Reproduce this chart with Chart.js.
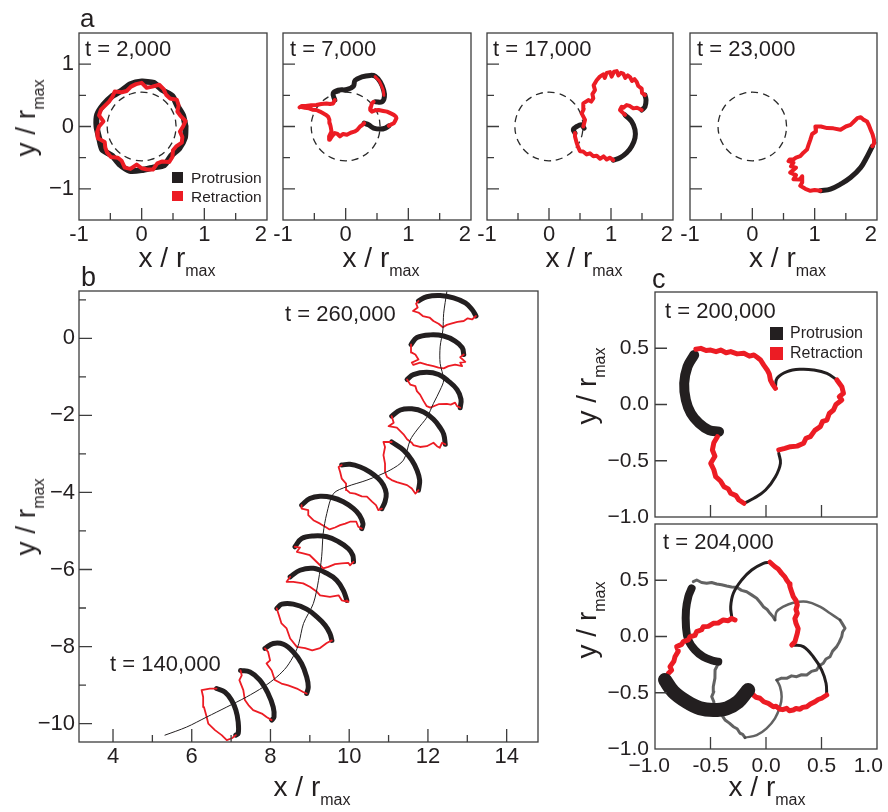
<!DOCTYPE html>
<html lang="en">
<head>
    <meta charset="UTF-8">
    <title>Protrusion / retraction outlines</title>
    <script src="https://cdn.jsdelivr.net/npm/chart.js@4.4.0/dist/chart.umd.min.js"></script>
    <style>
        body {
            margin: 0;
            width: 888px;
            height: 812px;
            position: relative;
            overflow: hidden;
            background: #fff;
            font-family: "Liberation Sans", Arial, Helvetica, sans-serif;
            color: #231f20;
        }
        canvas { position: absolute; }
        .txt { position: absolute; white-space: nowrap; line-height: 1; }
        .sub { font-size: 16px; position: relative; top: 9px; }
        .key { position: absolute; }
    </style>
</head>
<body>
<script>
// ---- tick values and labels ----
const aXTicks = [-1, -0.5, 0, 0.5, 1, 1.5, 2];
const aXLabels = ['-1', '', '0', '', '1', '', '2  '];
const aYTicks = [-1.5, -1, -0.5, 0, 0.5, 1, 1.5];
const aYLabels = ['', '\u22121', '', '0', '', '1', ''];
const bXTicks = [4, 5, 6, 7, 8, 9, 10, 11, 12, 13, 14];
const bXLabels = ['4', '', '6', '', '8', '', '10', '', '12', '', '14'];
const bYTicks = [-10, -9, -8, -7, -6, -5, -4, -3, -2, -1, 0, 1];
const bYLabels = ['\u221210', '', '\u22128', '', '\u22126', '', '\u22124', '', '\u22122', '', '0', ''];
const cXTicks = [-1, -0.5, 0, 0.5, 1];
const cXLabels = ['\u22121.0  ', '-0.5', '0.0', '0.5', '1.0   '];
const cYTicks = [-1, -0.5, 0, 0.5, 1];
const cYLabels = ['\u22121.0', '\u22120.5', '0.0', '0.5', ''];

// ---- panel a: reference circle (r = 0.55) ----
const refCircle = [[0.55,0],[0.531,0.142],[0.476,0.275],[0.389,0.389],[0.275,0.476],[0.142,0.531],[0,0.55],
    [-0.142,0.531],[-0.275,0.476],[-0.389,0.389],[-0.476,0.275],[-0.531,0.142],[-0.55,0],[-0.531,-0.142],
    [-0.476,-0.275],[-0.389,-0.389],[-0.275,-0.476],[-0.142,-0.531],[0,-0.55],[0.142,-0.531],[0.275,-0.476],
    [0.389,-0.389],[0.476,-0.275],[0.531,-0.142],[0.55,0]];

// t = 2,000
const a1Protrusion = [[0.70,0.00],[0.66,0.18],[0.57,0.33],[0.49,0.49],[0.34,0.58],[0.19,0.70],[0.00,0.72],
    [-0.18,0.68],[-0.33,0.57],[-0.48,0.48],[-0.61,0.35],[-0.71,0.19],[-0.72,0.00],[-0.68,-0.18],[-0.63,-0.37],
    [-0.47,-0.47],[-0.35,-0.61],[-0.19,-0.71],[0.00,-0.70],[0.18,-0.66],[0.36,-0.62],[0.47,-0.47],[0.60,-0.35],
    [0.69,-0.18],[0.70,0.00]];
const a1Retraction = [[0.66,0.00],[0.70,0.09],[0.62,0.17],[0.57,0.24],[0.59,0.34],[0.56,0.43],[0.45,0.45],
    [0.39,0.51],[0.35,0.60],[0.28,0.67],[0.17,0.64],[0.08,0.62],[0.00,0.70],[-0.09,0.68],[-0.17,0.64],
    [-0.24,0.57],[-0.32,0.55],[-0.43,0.56],[-0.47,0.47],[-0.52,0.40],[-0.58,0.34],[-0.65,0.27],[-0.68,0.18],
    [-0.61,0.08],[-0.68,0.00],[-0.71,-0.09],[-0.70,-0.19],[-0.59,-0.25],[-0.58,-0.34],[-0.55,-0.42],
    [-0.49,-0.49],[-0.38,-0.50],[-0.32,-0.55],[-0.27,-0.66],[-0.18,-0.68],[-0.08,-0.61],[0.00,-0.67],
    [0.09,-0.69],[0.18,-0.69],[0.25,-0.59],[0.33,-0.56],[0.44,-0.57],[0.49,-0.49],[0.50,-0.38],[0.55,-0.32],
    [0.64,-0.26],[0.65,-0.17],[0.61,-0.08],[0.66,0.00]];

// t = 7,000
const a2ProtrusionTop = [[-0.173,0.424],[-0.2,0.53],[-0.12,0.582],[0.02,0.593],[0.123,0.646],[0.15,0.74],
    [0.258,0.795],[0.392,0.82],[0.473,0.806],[0.553,0.715],[0.607,0.582],[0.618,0.476],[0.58,0.397],[0.473,0.397]];
const a2ProtrusionLow = [[0.688,0.011],[0.634,-0.026],[0.553,-0.042],[0.446,-0.026],[0.365,0.027],[0.295,0.053]];
const a2RetractionSpots = [[0.47,0.80],[0.53,0.74],[0.57,0.66],[0.60,0.58],[0.61,0.50]];
const a2RetractionRight = [[0.446,0.397],[0.418,0.37],[0.40,0.30],[0.392,0.265],[0.418,0.239],[0.47,0.26],
    [0.527,0.265],[0.60,0.25],[0.66,0.239],[0.72,0.21],[0.768,0.186],[0.80,0.16],[0.81,0.133],[0.79,0.09],
    [0.768,0.053],[0.72,0.03],[0.688,0.011]];
const a2RetractionLeft = [[0.295,0.053],[0.26,0.02],[0.23,0.0],[0.19,-0.05],[0.15,-0.079],[0.08,-0.10],
    [0.02,-0.132],[-0.04,-0.12],[-0.092,-0.158],[-0.13,-0.12],[-0.173,-0.105],[-0.22,-0.16],[-0.253,-0.212],
    [-0.264,-0.158],[-0.226,-0.079],[-0.24,0.0],[-0.253,0.053],[-0.26,0.11],[-0.28,0.16],[-0.32,0.19],
    [-0.36,0.212],[-0.41,0.24],[-0.468,0.265],[-0.53,0.27],[-0.585,0.291],[-0.65,0.30],[-0.72,0.317],
    [-0.737,0.307],[-0.70,0.33],[-0.638,0.33],[-0.55,0.34],[-0.468,0.344],[-0.39,0.36],[-0.306,0.37],
    [-0.25,0.36],[-0.2,0.37],[-0.173,0.424]];

// t = 17,000
const a3ProtrusionHook = [[0.419,-0.105],[0.392,-0.052],[0.447,0],[0.527,0.027],[0.565,-0.026]];
const a3ProtrusionRight = [[1.548,0.503],[1.565,0.424],[1.548,0.317],[1.495,0.265]];
const a3ProtrusionArc = [[1.226,0.186],[1.334,0.079],[1.387,-0.052],[1.387,-0.184],[1.334,-0.317],
    [1.253,-0.422],[1.145,-0.502],[1.037,-0.54]];
const a3RetractionTop = [[0.553,0],[0.581,0.106],[0.527,0.212],[0.56,0.28],[0.553,0.371],[0.634,0.424],
    [0.68,0.40],[0.715,0.45],[0.70,0.52],[0.742,0.583],[0.72,0.66],[0.769,0.741],[0.82,0.80],[0.876,0.837],
    [0.90,0.78],[0.93,0.86],[0.984,0.873],[1.01,0.80],[1.05,0.88],[1.092,0.889],[1.12,0.82],[1.16,0.86],
    [1.198,0.847],[1.23,0.78],[1.27,0.82],[1.306,0.794],[1.34,0.73],[1.38,0.76],[1.415,0.714],[1.44,0.65],
    [1.495,0.609],[1.50,0.54],[1.548,0.503]];
const a3RetractionMid = [[1.495,0.265],[1.42,0.30],[1.36,0.291],[1.30,0.33],[1.253,0.344],[1.20,0.30],
    [1.172,0.317],[1.145,0.265],[1.226,0.186]];
const a3RetractionLow = [[1.037,-0.54],[0.98,-0.50],[0.931,-0.529],[0.88,-0.48],[0.823,-0.518],[0.77,-0.47],
    [0.715,-0.476],[0.66,-0.43],[0.608,-0.449],[0.55,-0.40],[0.50,-0.397],[0.47,-0.33],[0.447,-0.264],
    [0.43,-0.20],[0.419,-0.159],[0.419,-0.105]];

// t = 23,000
const a4Protrusion = [[1.092,-1.032],[1.253,-1.005],[1.415,-0.925],[1.576,-0.819],[1.737,-0.66],
    [1.845,-0.476],[1.926,-0.317]];
const a4Retraction = [[1.926,-0.317],[1.96,-0.26],[1.952,-0.211],[1.93,-0.13],[1.898,-0.052],[1.87,0.02],
    [1.84,0.08],[1.79,0.106],[1.74,0.15],[1.684,0.133],[1.63,0.08],[1.576,0.027],[1.50,0.0],[1.415,-0.052],
    [1.30,-0.03],[1.2,-0.026],[1.10,0.0],[1.011,0],[1.02,-0.08],[0.96,-0.12],[0.931,-0.211],[0.90,-0.30],
    [0.877,-0.37],[0.82,-0.42],[0.769,-0.476],[0.70,-0.50],[0.661,-0.529],[0.60,-0.53],[0.581,-0.556],
    [0.66,-0.58],[0.62,-0.64],[0.70,-0.66],[0.608,-0.74],[0.70,-0.78],[0.661,-0.846],[0.76,-0.85],[0.80,-0.80],
    [0.80,-0.90],[0.769,-0.952],[0.85,-1.00],[0.931,-1.032],[1.00,-1.02],[1.092,-1.032]];

// ---- panel b: centre trajectory and 13 outlines (t = 140,000 ... 260,000) ----
const bPath = [[5.32,-10.30],[5.87,-10.09],[6.38,-9.83],[6.89,-9.57],[7.39,-9.31],[7.82,-9.05],[8.16,-8.79],
    [8.41,-8.53],[8.62,-8.18],[8.72,-7.92],[8.84,-7.40],[9.09,-6.88],[9.22,-6.28],[9.30,-5.67],[9.34,-5.06],
    [9.43,-4.55],[9.60,-4.03],[9.94,-3.85],[10.45,-3.68],[11.04,-3.42],[11.38,-3.16],[11.55,-2.64],
    [11.72,-2.38],[11.98,-2.04],[12.14,-1.69],[12.31,-1.34],[12.40,-1.08],[12.31,-0.65],[12.31,-0.22],
    [12.38,0.22],[12.40,0.65],[12.48,1.21]];
const bProtrusion = [
    [[11.76,0.97],[11.97,1.08],[12.31,1.11],[12.65,1.05],[12.95,0.92],[13.12,0.75],[13.22,0.58]],
    [[11.57,-0.16],[11.72,0.02],[12.06,0.09],[12.40,0.06],[12.69,-0.07],[12.87,-0.24],[12.91,-0.42]],
    [[11.47,-1.07],[11.63,-0.94],[11.97,-0.88],[12.27,-0.94],[12.52,-1.11],[12.74,-1.33],[12.84,-1.58],[12.82,-1.80]],
    [[11.08,-2.02],[11.30,-1.86],[11.59,-1.83],[11.89,-1.91],[12.14,-2.10],[12.31,-2.32],[12.40,-2.49],[12.44,-2.75]],
    [[11.08,-2.69],[11.38,-2.90],[11.59,-3.16],[11.72,-3.42],[11.79,-3.68],[11.76,-3.94]],
    [[9.81,-3.29],[10.02,-3.27],[10.28,-3.34],[10.53,-3.47],[10.74,-3.64],[10.87,-3.81],[10.94,-4.03],[10.91,-4.24],[10.83,-4.42]],
    [[8.79,-4.33],[9.00,-4.16],[9.26,-4.10],[9.56,-4.13],[9.85,-4.24],[10.11,-4.42],[10.26,-4.59],[10.35,-4.81],[10.32,-4.94]],
    [[8.62,-5.41],[8.79,-5.20],[9.09,-5.13],[9.43,-5.15],[9.73,-5.28],[9.98,-5.46],[10.09,-5.63],[10.11,-5.80]],
    [[8.50,-6.19],[8.75,-6.02],[9.09,-5.97],[9.43,-6.10],[9.68,-6.28],[9.85,-6.54],[9.94,-6.80]],
    [[8.16,-7.01],[8.29,-6.90],[8.58,-6.90],[8.92,-7.03],[9.18,-7.23],[9.39,-7.45],[9.51,-7.66],[9.56,-7.84]],
    [[7.86,-8.05],[8.07,-7.92],[8.33,-7.94],[8.58,-8.14],[8.79,-8.44],[8.92,-8.79],[8.96,-9.05],[8.92,-9.22]],
    [[7.24,-8.62],[7.48,-8.66],[7.73,-8.87],[7.94,-9.22],[8.07,-9.57],[8.09,-9.83],[8.03,-9.91]],
    [[6.63,-9.09],[6.84,-9.18],[7.01,-9.39],[7.12,-9.65],[7.18,-9.96],[7.18,-10.26],[7.12,-10.30]]
];
const bRetraction = [
    [[13.22,0.58],[13.12,0.49],[13.01,0.52],[12.91,0.45],[12.75,0.43],[12.61,0.39],[12.48,0.35],[12.38,0.29],
     [12.27,0.38],[12.14,0.45],[12.04,0.54],[11.87,0.58],[11.76,0.67],[11.62,0.71],[11.74,0.80],[11.70,0.90],[11.76,0.97]],
    [[12.91,-0.42],[12.82,-0.49],[12.95,-0.61],[12.82,-0.63],[12.87,-0.72],[12.69,-0.68],[12.52,-0.72],[12.40,-0.78],
     [12.27,-0.76],[12.14,-0.72],[11.97,-0.68],[11.80,-0.63],[11.63,-0.69],[11.59,-0.63],[11.76,-0.55],[11.68,-0.42],
     [11.59,-0.37],[11.57,-0.16]],
    [[12.82,-1.80],[12.74,-1.76],[12.69,-1.67],[12.58,-1.72],[12.48,-1.70],[12.27,-1.71],[12.06,-1.80],[11.97,-1.76],
     [11.89,-1.63],[11.80,-1.46],[11.72,-1.37],[11.68,-1.24],[11.55,-1.20],[11.47,-1.07]],
    [[12.44,-2.75],[12.36,-2.71],[12.30,-2.84],[12.23,-2.80],[12.14,-2.71],[11.97,-2.80],[11.80,-2.82],[11.63,-2.77],
     [11.59,-2.71],[11.47,-2.62],[11.38,-2.49],[11.21,-2.32],[11.00,-2.28],[11.13,-2.19],[11.08,-2.02]],
    [[11.76,-3.94],[11.68,-4.03],[11.59,-3.90],[11.47,-3.81],[11.34,-3.77],[11.21,-3.73],[11.08,-3.68],[10.96,-3.60],
     [10.91,-3.47],[10.91,-3.25],[10.87,-3.03],[10.91,-2.82],[10.87,-2.69],[11.08,-2.69]],
    [[10.83,-4.42],[10.74,-4.46],[10.68,-4.33],[10.58,-4.24],[10.45,-4.11],[10.32,-4.10],[10.15,-4.03],[10.02,-4.01],
     [9.94,-3.94],[9.92,-3.77],[9.81,-3.64],[9.77,-3.47],[9.73,-3.34],[9.81,-3.29]],
    [[10.32,-4.94],[10.23,-4.89],[10.18,-4.76],[10.02,-4.76],[9.90,-4.81],[9.77,-4.85],[9.64,-4.91],[9.50,-4.96],
     [9.39,-4.89],[9.26,-4.81],[9.09,-4.72],[8.96,-4.59],[8.96,-4.46],[8.79,-4.42],[8.79,-4.33]],
    [[10.11,-5.80],[10.02,-5.89],[9.98,-5.83],[9.81,-5.84],[9.64,-5.86],[9.47,-5.93],[9.34,-5.97],[9.26,-5.89],
     [9.13,-5.76],[9.00,-5.63],[8.83,-5.58],[8.67,-5.54],[8.75,-5.43],[8.62,-5.41]],
    [[9.94,-6.80],[9.98,-6.84],[9.81,-6.80],[9.73,-6.67],[9.51,-6.71],[9.26,-6.67],[9.18,-6.58],[9.00,-6.45],
     [8.83,-6.36],[8.58,-6.32],[8.41,-6.32],[8.50,-6.19]],
    [[9.56,-7.84],[9.43,-7.91],[9.26,-8.04],[9.06,-8.10],[8.88,-8.04],[8.67,-8.01],[8.50,-7.79],[8.41,-7.53],
     [8.28,-7.40],[8.20,-7.14],[8.16,-7.01]],
    [[8.92,-9.22],[8.83,-9.18],[8.67,-9.09],[8.45,-9.01],[8.28,-8.96],[8.11,-8.87],[8.03,-8.62],[7.90,-8.44],
     [7.99,-8.36],[7.94,-8.14],[7.86,-8.05]],
    [[8.03,-9.91],[7.90,-9.83],[7.78,-9.74],[7.56,-9.65],[7.44,-9.52],[7.35,-9.39],[7.31,-9.13],[7.21,-8.87],
     [7.27,-8.75],[7.24,-8.62]],
    [[7.12,-10.30],[7.02,-10.38],[6.89,-10.43],[6.76,-10.30],[6.59,-10.17],[6.42,-10.00],[6.38,-9.83],[6.31,-9.57],
     [6.29,-9.31],[6.25,-9.13],[6.46,-9.09],[6.63,-9.09]]
];

// ---- panel c, t = 200,000 ----
const c1ProtrusionThick = [[-0.647,0.44],[-0.707,0.336],[-0.737,0.188],[-0.722,0.04],[-0.677,-0.078],
    [-0.603,-0.167],[-0.513,-0.227],[-0.423,-0.242]];
const c1ProtrusionLow = [[-0.199,-0.878],[-0.109,-0.834],[-0.004,-0.76],[0.085,-0.642],[0.130,-0.523],[0.115,-0.434]];
const c1ProtrusionUp = [[0.639,0.218],[0.549,0.277],[0.429,0.307],[0.309,0.313],[0.190,0.292],[0.100,0.233],[0.085,0.158]];
const c1RetractionA = [[-0.438,-0.286],[-0.47,-0.34],[-0.483,-0.404],[-0.46,-0.46],[-0.498,-0.523],[-0.47,-0.58],
    [-0.453,-0.642],[-0.41,-0.68],[-0.378,-0.731],[-0.34,-0.75],[-0.318,-0.789],[-0.27,-0.81],[-0.244,-0.849],[-0.199,-0.878]];
const c1RetractionB = [[0.115,-0.404],[0.17,-0.39],[0.220,-0.375],[0.28,-0.37],[0.339,-0.345],[0.36,-0.30],
    [0.399,-0.286],[0.44,-0.23],[0.489,-0.197],[0.51,-0.15],[0.549,-0.138],[0.57,-0.08],[0.608,-0.049],[0.63,0.0],
    [0.683,0.04],[0.66,0.07],[0.698,0.1],[0.683,0.158],[0.639,0.218]];
const c1RetractionC = [[0.085,0.144],[0.06,0.18],[0.040,0.218],[0.03,0.27],[0.011,0.307],[-0.02,0.35],
    [-0.049,0.396],[-0.08,0.42],[-0.109,0.440],[-0.15,0.43],[-0.199,0.455],[-0.26,0.45],[-0.318,0.470],
    [-0.36,0.46],[-0.408,0.484],[-0.45,0.47],[-0.498,0.484],[-0.54,0.48],[-0.587,0.499],[-0.632,0.491]];

// ---- panel c, t = 204,000 ----
const c2ProtrusionThick = [[-0.91,-0.387],[-0.835,-0.491],[-0.715,-0.58],[-0.595,-0.638],[-0.475,-0.653],
    [-0.354,-0.638],[-0.25,-0.58],[-0.174,-0.491],[-0.16,-0.476]];
const c2ProtrusionMid = [[-0.670,0.428],[-0.70,0.354],[-0.721,0.236],[-0.721,0.087],[-0.70,-0.031],
    [-0.64,-0.12],[-0.565,-0.18],[-0.475,-0.215],[-0.43,-0.224]];
const c2ProtrusionTop = [[-0.309,0.176],[-0.318,0.265],[-0.294,0.384],[-0.219,0.502],[-0.129,0.591],
    [-0.024,0.651],[0.036,0.66]];
const c2ProtrusionRight = [[0.246,-0.076],[0.336,-0.09],[0.426,-0.18],[0.502,-0.298],[0.541,-0.416],[0.547,-0.52]];
const c2RetractionA = [[-0.88,-0.327],[-0.85,-0.30],[-0.865,-0.268],[-0.83,-0.22],[-0.82,-0.18],[-0.79,-0.13],
    [-0.805,-0.09],[-0.76,-0.07],[-0.745,-0.046],[-0.70,-0.03],[-0.685,-0.002],[-0.64,0.01],[-0.625,0.043],
    [-0.58,0.06],[-0.565,0.087],[-0.52,0.09],[-0.475,0.117],[-0.43,0.12],[-0.385,0.147],[-0.34,0.14],
    [-0.309,0.161],[-0.279,0.147]];
const c2RetractionB = [[0.036,0.66],[0.081,0.62],[0.11,0.60],[0.141,0.561],[0.17,0.53],[0.186,0.502],[0.21,0.47],
    [0.216,0.443],[0.23,0.40],[0.246,0.354],[0.27,0.32],[0.282,0.28],[0.27,0.24],[0.282,0.206],[0.26,0.16],
    [0.270,0.117],[0.29,0.07],[0.282,0.028],[0.261,-0.046],[0.232,-0.076]];
const c2RetractionC = [[0.547,-0.52],[0.502,-0.549],[0.47,-0.56],[0.441,-0.58],[0.40,-0.60],[0.367,-0.624],
    [0.33,-0.63],[0.306,-0.647],[0.27,-0.64],[0.246,-0.653],[0.21,-0.66],[0.186,-0.638],[0.15,-0.65],
    [0.126,-0.647],[0.09,-0.62],[0.066,-0.624],[0.021,-0.594],[-0.02,-0.58],[-0.054,-0.549],[-0.09,-0.54],
    [-0.114,-0.52],[-0.129,-0.5]];
// earlier outline (grey)
const c2EarlierJag1 = [[-0.655,0.487],[-0.624,0.502],[-0.58,0.48],[-0.534,0.473],[-0.49,0.48],[-0.444,0.467],
    [-0.40,0.46],[-0.354,0.449],[-0.31,0.44],[-0.264,0.437],[-0.22,0.41],[-0.174,0.398],[-0.13,0.37],
    [-0.084,0.34],[-0.05,0.30],[-0.024,0.265],[0.01,0.24],[0.036,0.206],[0.06,0.18],[0.081,0.147]];
const c2EarlierArc1 = [[0.081,0.147],[0.096,0.221],[0.156,0.265],[0.246,0.30],[0.367,0.309],[0.486,0.265],
    [0.577,0.206],[0.667,0.147]];
const c2EarlierJag2 = [[0.667,0.147],[0.69,0.11],[0.712,0.073],[0.69,0.04],[0.682,-0.002],[0.66,-0.05],
    [0.637,-0.09],[0.60,-0.13],[0.577,-0.18],[0.54,-0.20],[0.516,-0.238],[0.48,-0.26],[0.456,-0.298],
    [0.41,-0.31],[0.367,-0.342],[0.32,-0.34],[0.276,-0.357],[0.23,-0.35],[0.186,-0.372],[0.14,-0.37],[0.096,-0.387]];
const c2EarlierArc2 = [[0.096,-0.387],[0.126,-0.446],[0.141,-0.535],[0.126,-0.624],[0.081,-0.727],[0.006,-0.816],
    [-0.084,-0.876],[-0.189,-0.899]];
const c2EarlierJag3 = [[-0.189,-0.899],[-0.21,-0.87],[-0.234,-0.86],[-0.26,-0.82],[-0.294,-0.802],[-0.33,-0.77],
    [-0.369,-0.742],[-0.39,-0.71],[-0.414,-0.683],[-0.45,-0.65],[-0.475,-0.624],[-0.47,-0.58],[-0.489,-0.535],
    [-0.47,-0.49],[-0.475,-0.446],[-0.46,-0.37],[-0.459,-0.298],[-0.44,-0.26],[-0.43,-0.224]];

// ---- drawing ----
const FONT = "'Liberation Sans', Arial, Helvetica, sans-serif";
const INK = '#231f20';
const RED = '#ec1c24';
const GREY = 'rgba(70,70,70,0.85)';
Chart.defaults.font.family = FONT;

function line(data, color, width, tension, order, dash) {
    return {
        data: data, showLine: true, borderColor: color, backgroundColor: color,
        borderWidth: width, pointRadius: 0, pointHoverRadius: 0, tension: tension,
        order: order, borderDash: dash || [], borderCapStyle: dash ? 'butt' : 'round',
        borderJoinStyle: 'round', fill: false
    };
}

function framePlugin(p) {
    return {
        id: 'frame',
        afterDatasetsDraw(chart) {
            const ctx = chart.ctx, a = chart.chartArea, sx = chart.scales.x, sy = chart.scales.y;
            ctx.save();
            ctx.strokeStyle = '#3d3d3d';
            ctx.lineWidth = 1.3;
            ctx.beginPath();
            sx.ticks.forEach((t, i) => {
                const px = sx.getPixelForValue(t.value);
                if (px < a.left + 2 || px > a.right - 2) return;
                const len = (p.allMajor || p.xLabels[i]) ? p.major : p.minor;
                ctx.moveTo(px, a.bottom);
                ctx.lineTo(px, a.bottom - len);
            });
            sy.ticks.forEach((t, i) => {
                const py = sy.getPixelForValue(t.value);
                if (py < a.top + 2 || py > a.bottom - 2) return;
                const len = (p.allMajor || p.yLabels[i]) ? p.major : p.minor;
                ctx.moveTo(a.left, py);
                ctx.lineTo(a.left + len, py);
            });
            ctx.stroke();
            ctx.strokeRect(a.left, a.top, a.right - a.left, a.bottom - a.top);
            ctx.restore();
        }
    };
}

function makePanel(p) {
    const L = p.showY ? 75 : 20, T = 12, R = p.right || 14, B = 44;
    const [bx, by, bw, bh] = p.box;
    const cv = document.createElement('canvas');
    const W = bw + L + R, H = bh + T + B;
    cv.width = W; cv.height = H;
    cv.style.left = (bx - L) + 'px';
    cv.style.top = (by - T) + 'px';
    cv.style.width = W + 'px';
    cv.style.height = H + 'px';
    document.body.appendChild(cv);
    const tickFont = { family: FONT, size: p.fontSize };
    new Chart(cv, {
        type: 'scatter',
        data: { datasets: p.sets },
        options: {
            responsive: false,
            animation: false,
            devicePixelRatio: 1,
            events: [],
            layout: { padding: { left: 0, top: T, right: R, bottom: 0 } },
            plugins: { legend: { display: false }, tooltip: { enabled: false } },
            scales: {
                x: {
                    type: 'linear', min: p.xRange[0], max: p.xRange[1],
                    grid: { display: false, drawTicks: false }, border: { display: false },
                    ticks: {
                        display: p.showX, autoSkip: false, maxRotation: 0, minRotation: 0,
                        padding: p.xPad, font: tickFont, color: INK,
                        callback: (v, i) => p.xLabels[i]
                    },
                    afterBuildTicks: s => { s.ticks = p.xTicks.map(v => ({ value: v })); },
                    afterFit: s => { s.height = B; s.paddingLeft = 0; s.paddingRight = 0; }
                },
                y: {
                    type: 'linear', min: p.yRange[0], max: p.yRange[1],
                    grid: { display: false, drawTicks: false }, border: { display: false },
                    ticks: {
                        display: p.showY, autoSkip: false, padding: p.yPad, font: tickFont, color: INK,
                        callback: (v, i) => p.yLabels[i]
                    },
                    afterBuildTicks: s => { s.ticks = p.yTicks.map(v => ({ value: v })); },
                    afterFit: s => { s.width = L; s.paddingTop = 0; s.paddingBottom = 0; }
                }
            }
        },
        plugins: [framePlugin(p)]
    });
}

function txt(html, x, base, size, mode) {
    const d = document.createElement('div');
    d.className = 'txt';
    d.innerHTML = html;
    d.style.fontSize = size + 'px';
    if (mode === 'rot') {
        d.style.left = (x - 0.8465 * size) + 'px';
        d.style.top = base + 'px';
        d.style.transformOrigin = '0 0';
        d.style.transform = 'rotate(-90deg) translateX(-50%)';
    } else {
        d.style.left = x + 'px';
        d.style.top = (base - 0.8465 * size) + 'px';
        if (mode === 'center') d.style.transform = 'translateX(-50%)';
    }
    document.body.appendChild(d);
}

function key(x, y, size, color) {
    const d = document.createElement('div');
    d.className = 'key';
    d.style.left = x + 'px'; d.style.top = y + 'px';
    d.style.width = size + 'px'; d.style.height = size + 'px';
    d.style.background = color;
    document.body.appendChild(d);
}

// panel a
const aCommon = {
    xRange: [-1, 2], yRange: [-1.5, 1.5], xTicks: aXTicks, xLabels: aXLabels,
    yTicks: aYTicks, yLabels: aYLabels, showX: true, xPad: 2, yPad: 5,
    fontSize: 22, major: 12, minor: 7
};
const dashed = () => line(refCircle, '#2a2a2a', 1.3, 0.4, 9, [7, 5]);
makePanel(Object.assign({}, aCommon, { box: [79, 33, 188, 187], showY: true, sets: [
    line(a1Retraction, RED, 4, 0, 1),
    line(a1Protrusion, INK, 6, 0.2, 2),
    dashed()
] }));
makePanel(Object.assign({}, aCommon, { box: [283, 33, 188, 187], showY: false, sets: [
    line(a2RetractionSpots, RED, 3, 0.3, 0),
    line(a2RetractionRight, RED, 4, 0, 1),
    line(a2RetractionLeft, RED, 4, 0, 1),
    line(a2ProtrusionTop, INK, 5, 0.4, 2),
    line(a2ProtrusionLow, INK, 5, 0.4, 2),
    dashed()
] }));
makePanel(Object.assign({}, aCommon, { box: [487, 33, 186, 187], showY: false, sets: [
    line(a3RetractionTop, RED, 4, 0, 1),
    line(a3RetractionMid, RED, 4, 0, 1),
    line(a3RetractionLow, RED, 4, 0, 1),
    line(a3ProtrusionHook, INK, 5, 0.4, 2),
    line(a3ProtrusionRight, INK, 5, 0.4, 2),
    line(a3ProtrusionArc, INK, 5, 0.4, 2),
    dashed()
] }));
makePanel(Object.assign({}, aCommon, { box: [690, 33, 187, 187], showY: false, sets: [
    line(a4Retraction, RED, 4, 0, 1),
    line(a4Protrusion, INK, 5, 0.4, 2),
    dashed()
] }));

// panel b
const bSets = [line(bPath, INK, 1, 0.3, 0)];
bRetraction.forEach(d => bSets.push(line(d, RED, 1.8, 0, 1)));
bProtrusion.forEach(d => bSets.push(line(d, INK, 5, 0.4, 2)));
makePanel({
    box: [79, 291, 459, 451], xRange: [3.136, 14.796], yRange: [-10.478, 1.229],
    xTicks: bXTicks, xLabels: bXLabels, yTicks: bYTicks, yLabels: bYLabels,
    showX: true, showY: true, xPad: 2, yPad: 4, fontSize: 22, major: 13, minor: 7, sets: bSets
});

// panel c
const cCommon = {
    xRange: [-1, 1], yRange: [-1, 1], xTicks: cXTicks, xLabels: cXLabels,
    yTicks: cYTicks, yLabels: cYLabels, showY: true, xPad: 5, yPad: 6,
    fontSize: 21, major: 12, minor: 12, allMajor: true, right: 11
};
makePanel(Object.assign({}, cCommon, { box: [655, 292, 222, 225], showX: false, sets: [
    line(c1RetractionA, RED, 5, 0, 1),
    line(c1RetractionB, RED, 5, 0, 1),
    line(c1RetractionC, RED, 5, 0, 1),
    line(c1ProtrusionThick, INK, 10, 0.4, 2),
    line(c1ProtrusionLow, INK, 3, 0.4, 2),
    line(c1ProtrusionUp, INK, 3, 0.4, 2)
] }));
makePanel(Object.assign({}, cCommon, { box: [655, 524, 222, 225], showX: true, sets: [
    line(c2ProtrusionThick, INK, 14, 0.4, 0),
    line(c2RetractionA, RED, 5, 0, 1),
    line(c2RetractionB, RED, 5, 0, 1),
    line(c2RetractionC, RED, 5, 0, 1),
    line(c2ProtrusionMid, INK, 8, 0.4, 2),
    line(c2ProtrusionTop, INK, 3, 0.4, 2),
    line(c2ProtrusionRight, INK, 3, 0.4, 2),
    line(c2EarlierJag1, GREY, 3, 0, 3),
    line(c2EarlierArc1, GREY, 2.5, 0.4, 3),
    line(c2EarlierJag2, GREY, 3, 0, 3),
    line(c2EarlierArc2, GREY, 2.5, 0.4, 3),
    line(c2EarlierJag3, GREY, 3, 0, 3)
] }));

// text: panel letters, time stamps, axis titles, legends
const XT = 'x / r<span class="sub">max</span>';
const YT = 'y / r<span class="sub">max</span>';
txt('a', 80, 27, 26);
txt('b', 81, 287, 27);
txt('c', 652, 289, 27);
txt('t = 2,000', 85, 57, 22);
txt('t = 7,000', 290, 57, 22);
txt('t = 17,000', 493, 57, 22);
txt('t = 23,000', 697, 57, 22);
txt('t = 260,000', 285, 321.5, 22);
txt('t = 140,000', 110, 671.5, 22);
txt('t = 200,000', 665, 318.5, 22);
txt('t = 204,000', 663, 550, 22);
[[79, 188], [283, 188], [487, 186], [690, 187]].forEach(b => txt(XT, b[0] + b[1] / 2 + 4, 268, 28, 'center'));
txt(XT, 312, 797, 28, 'center');
txt(XT, 767, 797, 28, 'center');
txt(YT, 36, 118, 28, 'rot');
txt(YT, 36, 517, 28, 'rot');
txt(YT, 597, 386, 28, 'rot');
txt(YT, 597, 620, 28, 'rot');
key(172, 172, 10.5, INK);
key(172, 190.5, 10.5, RED);
txt('Protrusion', 191, 183, 15.5);
txt('Retraction', 191, 202, 15.5);
key(770, 326.5, 13, INK);
key(770, 346.5, 13, RED);
txt('Protrusion', 790, 338.5, 16);
txt('Retraction', 790, 358.5, 16);
</script>
</body>
</html>
